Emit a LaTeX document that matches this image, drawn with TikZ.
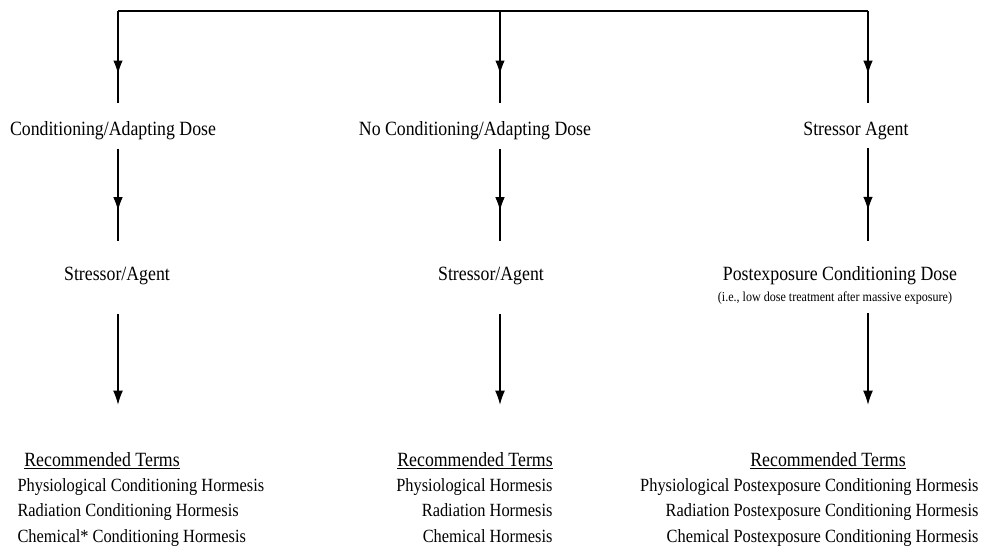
\documentclass[tikz,border=0pt]{standalone}
\usepackage{fontspec}
\setmainfont{Liberation Serif}[FakeStretch=0.88]
\usetikzlibrary{arrows.meta, decorations.markings}

\begin{document}
\begin{tikzpicture}[x=0.02cm, y=-0.02cm, line width=0.6pt,
  lbl/.style={inner sep=0pt, font=\fontsize{11.5}{13}\selectfont},
  note/.style={inner sep=0pt, font=\fontsize{7.8}{9}\selectfont},
  hd/.style={inner sep=0pt, anchor=base, font=\fontsize{11.5}{13}\selectfont},
  terms/.style={inner sep=0pt, font=\fontsize{10.6}{14.5}\selectfont},
  midarr/.style={postaction={decorate}, decoration={markings,
    mark=at position #1 with {\arrow{Latex[length=7.6pt,width=5.4pt]}}}},
  >={Latex[length=8pt,width=5.6pt]}]
\useasboundingbox (0,0) rectangle (985,551);
% top bar
\coordinate (tL) at (118,11);
\coordinate (tM) at (500,11);
\coordinate (tR) at (868,11);
% first row
\node[lbl] (cond)     at (113,131) {Conditioning/Adapting Dose};
\node[lbl] (nocond)   at (475,131) {No Conditioning/Adapting Dose};
\node[lbl] (stressag) at (856,131) {Stressor Agent};
% second row
\node[lbl] (agL)  at (117,276) {Stressor/Agent};
\node[lbl] (agM)  at (491,276) {Stressor/Agent};
\node[lbl] (post) at (840,276) {Postexposure Conditioning Dose};
\node[note] (postnote) at (835,298) {(i.e., low dose treatment after massive exposure)};
% recommended terms
\node[hd] (hdL) at (102,466) {\underline{Recommended Terms}};
\node[hd] (hdM) at (475,466) {\underline{Recommended Terms}};
\node[hd] (hdR) at (828,466) {\underline{Recommended Terms}};
\node[terms, anchor=north west, align=left] (trL) at (17,478)
  {Physiological Conditioning Hormesis\\Radiation Conditioning Hormesis\\Chemical* Conditioning Hormesis};
\node[terms, anchor=north east, align=right] (trM) at (553,478)
  {Physiological Hormesis\\Radiation Hormesis\\Chemical Hormesis};
\node[terms, anchor=north east, align=right] (trR) at (979,478)
  {Physiological Postexposure Conditioning Hormesis\\Radiation Postexposure Conditioning Hormesis\\Chemical Postexposure Conditioning Hormesis};

\draw (tL) -- (tR);
\draw[midarr=0.57, shorten >=10.5pt] (tL) -- (tL |- cond.north);
\draw[midarr=0.57, shorten >=10.5pt] (tM) -- (tM |- nocond.north);
\draw[midarr=0.57, shorten >=10.5pt] (tR) -- (tR |- stressag.north);
\draw[midarr=0.555, shorten <=4.5pt, shorten >=14.6pt] (tL |- cond.south) -- (tL |- agL.north);
\draw[midarr=0.555, shorten <=4.5pt, shorten >=14.6pt] (tM |- nocond.south) -- (tM |- agM.north);
\draw[midarr=0.555, shorten <=4.5pt, shorten >=14.6pt] (tR |- stressag.south) -- (tR |- post.north);
\draw[->, shorten <=16.3pt, shorten >=26.6pt] (tL |- agL.south) -- (tL |- hdL.north);
\draw[->, shorten <=16.3pt, shorten >=26.6pt] (tM |- agM.south) -- (tM |- hdM.north);
\draw[->, shorten <=4.9pt, shorten >=26.6pt] (tR |- postnote.south) -- (tR |- hdR.north);
\end{tikzpicture}
\end{document}
